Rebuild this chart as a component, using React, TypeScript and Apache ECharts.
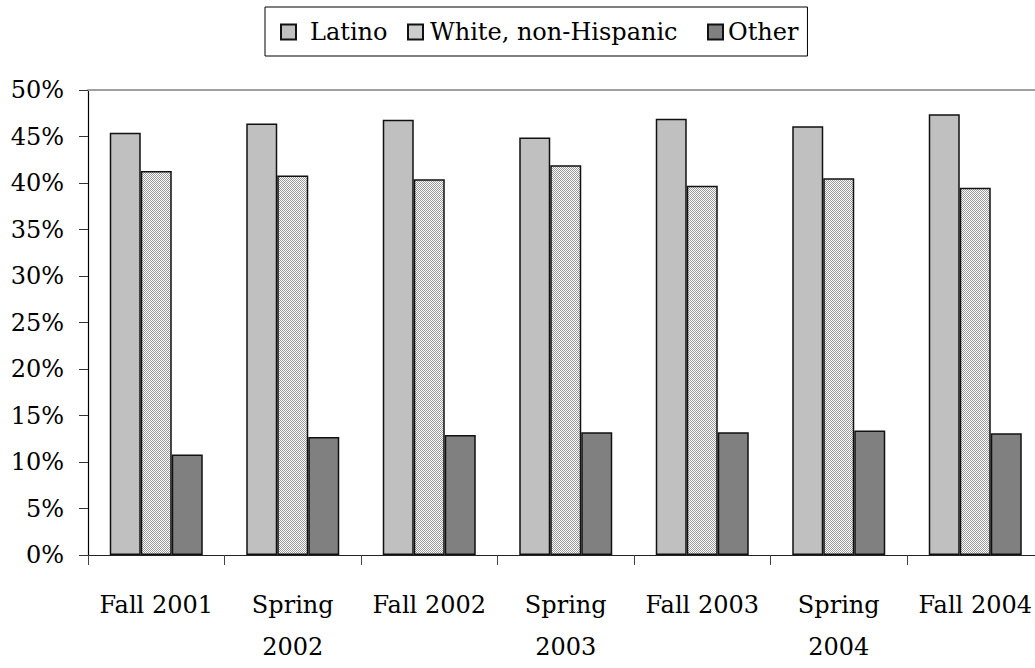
import React, { useEffect, useRef } from "react";
import * as echarts from "echarts";

const categories = ["Fall 2001", "Spring\n2002", "Fall 2002", "Spring\n2003", "Fall 2003", "Spring\n2004", "Fall 2004"];
const seriesNames = ["Latino", "White, non-Hispanic", "Other"];
const latino = [45.4, 46.4, 46.8, 44.9, 46.9, 46.1, 47.4];
const white = [41.3, 40.8, 40.4, 41.9, 39.7, 40.5, 39.5];
const other = [10.8, 12.7, 12.9, 13.2, 13.2, 13.4, 13.1];

const FONT = "'DejaVu Serif', serif";

function makePattern(): string {
  const c = document.createElement("canvas");
  c.width = 2;
  c.height = 2;
  const ctx = c.getContext("2d")!;
  ctx.fillStyle = "#ffffff";
  ctx.fillRect(0, 0, 2, 2);
  ctx.fillStyle = "#9a9a9a";
  ctx.fillRect(0, 0, 1, 1);
  ctx.fillRect(1, 1, 1, 1);
  return c.toDataURL();
}

export default function App() {
  const ref = useRef<HTMLDivElement>(null);
  useEffect(() => {
    if (!ref.current) return;
    const chart = echarts.init(ref.current, undefined, { renderer: "svg" });
    const pattern = { image: makePattern(), repeat: "repeat" };
    const border = { borderColor: "#111", borderWidth: 1.5 };
    const tok = { fontFamily: FONT, fontSize: 24, color: "#000", lineHeight: 26 };
    const keys = ["l", "w", "o"];
    chart.setOption({
      animation: false,
      backgroundColor: "#fff",
      textStyle: { fontFamily: FONT, color: "#000" },
      legend: {
        left: 265,
        top: 7,
        icon: "rect",
        data: seriesNames,
        formatter: (name: string) => `{${keys[seriesNames.indexOf(name)]}|${name}}`,
        itemWidth: 15,
        itemHeight: 15,
        itemGap: 5,
        borderColor: "#000",
        borderWidth: 1,
        padding: [12, 9, 11, 15],
        textStyle: {
          ...tok,
          rich: {
            l: { ...tok, width: 92, padding: [0, 0, 0, 9] },
            w: { ...tok, width: 272, padding: [0, 0, 0, 2] },
            o: { ...tok, width: 70 },
          },
        },
      },
      grid: { left: 88, top: 90, bottom: 101, width: 955.5, containLabel: false },
      xAxis: [
        {
          type: "category",
          data: categories,
          axisLine: { lineStyle: { color: "#222", width: 1.2 } },
          axisTick: { show: true, length: 10, lineStyle: { color: "#444" } },
          axisLabel: { fontFamily: FONT, fontSize: 24, color: "#000", margin: 29, lineHeight: 42, interval: 0 },
        },
        {
          type: "category",
          position: "top",
          data: categories,
          axisLine: { show: true, lineStyle: { color: "#a0a0a0", width: 2 } },
          axisTick: { show: false },
          axisLabel: { show: false },
        },
      ],
      yAxis: {
        type: "value",
        min: 0,
        max: 50,
        interval: 5,
        axisLine: { show: true, lineStyle: { color: "#000", width: 1.2 } },
        axisTick: { show: true, length: 9, lineStyle: { color: "#333" } },
        splitLine: { show: false },
        axisLabel: { fontFamily: FONT, fontSize: 24, color: "#000", margin: 24, formatter: "{value}%" },
      },
      series: [
        {
          name: seriesNames[0],
          type: "bar",
          data: latino,
          barWidth: 31,
          barGap: "0%",
          itemStyle: { color: "#c0c0c0", ...border },
        },
        {
          name: seriesNames[1],
          type: "bar",
          data: white,
          barWidth: 31,
          barGap: "0%",
          itemStyle: { color: pattern, ...border },
        },
        {
          name: seriesNames[2],
          type: "bar",
          data: other,
          barWidth: 31,
          barGap: "0%",
          itemStyle: { color: "#808080", ...border },
        },
      ],
    });
    return () => chart.dispose();
  }, []);
  return (
    <div style={{ position: "absolute", left: 0, top: 0, width: 1035, height: 668, overflow: "hidden" }}>
      <div ref={ref} style={{ width: 1045, height: 668 }} />
    </div>
  );
}
